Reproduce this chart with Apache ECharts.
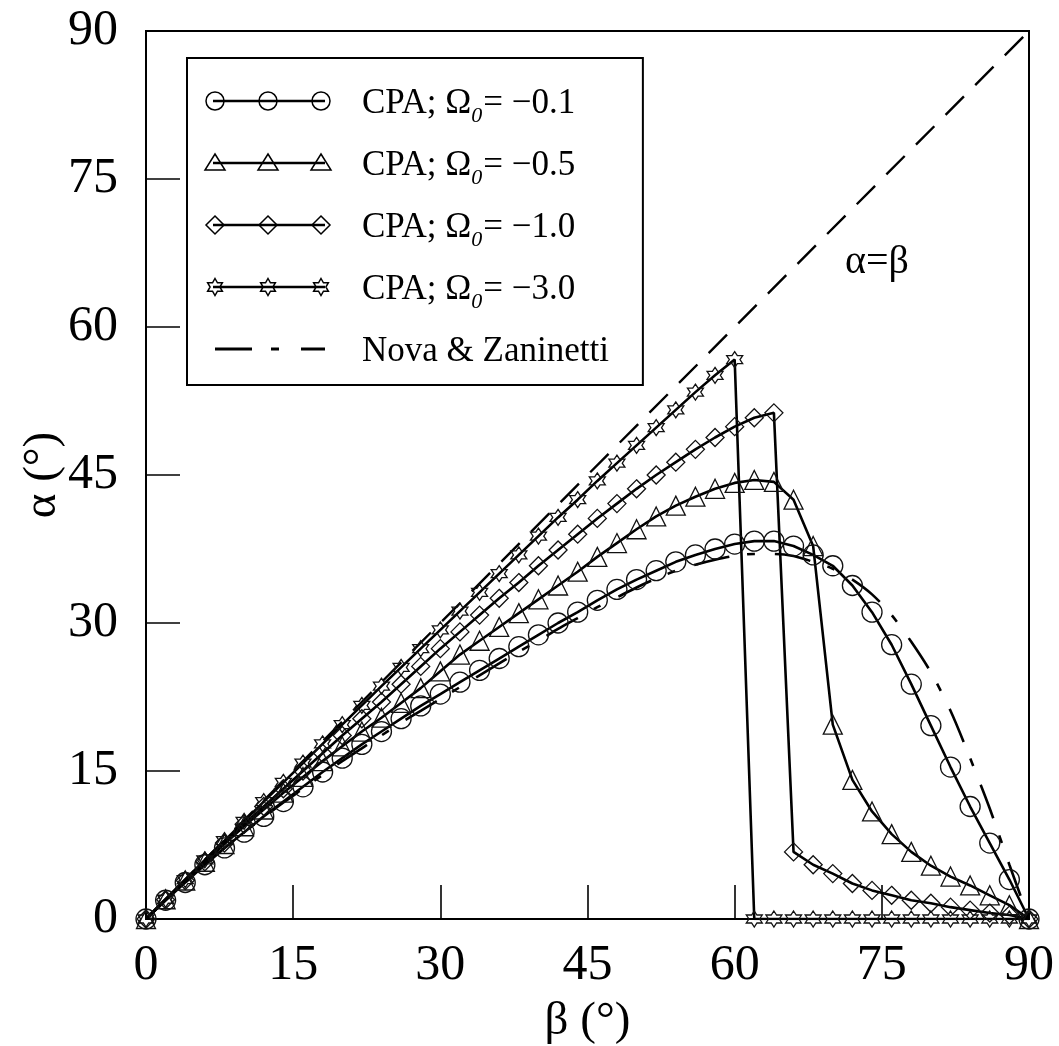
<!DOCTYPE html>
<html>
<head>
<meta charset="utf-8">
<script src="https://cdn.jsdelivr.net/npm/echarts@6/dist/echarts.min.js"></script>
<style>
html,body{margin:0;padding:0;background:#fff;}
#chart{width:1059px;height:1046px;}
</style>
</head>
<body>
<div id="chart"></div>
<script>
// ---- data ----
const beta = [0,2,4,6,8,10,12,14,16,18,20,22,24,26,28,30,32,34,36,38,40,42,44,46,48,50,52,54,56,58,60,62,64,66,68,70,72,74,76,78,80,82,84,86,88,90];
const cpa01 = [0,1.9,3.7,5.5,7.2,8.8,10.4,11.9,13.4,14.9,16.3,17.7,19.0,20.3,21.6,22.8,24.0,25.2,26.4,27.6,28.8,30.0,31.1,32.3,33.4,34.4,35.3,36.2,36.9,37.5,38.0,38.3,38.3,37.8,36.9,35.8,33.8,31.1,27.8,23.8,19.6,15.4,11.4,7.7,4.0,0];
const cpa05 = [0,2.0,3.9,5.8,7.6,9.4,11.1,12.8,14.4,16.0,17.5,19.0,20.4,21.9,23.4,25.1,26.8,28.2,29.6,31.0,32.4,33.8,35.2,36.7,38.1,39.5,40.8,41.9,42.8,43.6,44.2,44.5,44.3,42.5,37.8,19.7,14.1,10.9,8.6,6.8,5.4,4.3,3.4,2.4,1.4,0];
const cpa10 = [0,1.95,3.9,5.8,7.7,9.6,11.4,13.2,15.0,16.8,18.6,20.3,22.0,23.8,25.6,27.4,29.1,30.8,32.5,34.1,35.8,37.4,39.0,40.6,42.1,43.6,45.0,46.3,47.6,48.8,49.9,50.8,51.3,6.8,5.5,4.6,3.6,2.9,2.4,1.9,1.6,1.2,0.9,0.6,0.4,0];
const cpa30 = [0,2.0,4.0,6.0,7.95,9.9,11.9,13.85,15.8,17.75,19.7,21.65,23.6,25.5,27.4,29.3,31.2,33.1,35.0,36.9,38.8,40.7,42.5,44.4,46.2,48.0,49.8,51.6,53.4,55.1,56.7,0,0,0,0,0,0,0,0,0,0,0,0,0,0,0];
const novaZ = [0,1.9,3.7,5.5,7.2,8.8,10.3,11.8,13.2,14.6,16.0,17.3,18.6,19.9,21.1,22.3,23.5,24.7,25.9,27.1,28.2,29.4,30.5,31.6,32.6,33.6,34.5,35.3,35.9,36.4,36.8,37.0,37.0,36.8,36.2,35.5,34.4,32.9,30.8,28.1,25.0,21.1,16.3,11.2,5.5,0];
const diagX = [0,90];
const diagY = [0,90];
const ticks = [0,15,30,45,60,75,90];
const names = ['CPA; Ω0= −0.1','CPA; Ω0= −0.5','CPA; Ω0= −1.0','CPA; Ω0= −3.0','Nova & Zaninetti'];
const diagLabel = 'α=β';
const diagLabelAt = [74.5, 66.5];

const FONT = '"Liberation Serif","Times New Roman",serif';
const STAR = 'path://M10 0 L12.885 5 L18.66 5 L15.77 10 L18.66 15 L12.885 15 L10 20 L7.115 15 L1.34 15 L4.23 10 L1.34 5 L7.115 5 Z';

function pairs(xs, ys){ return xs.map((x,i)=>[x, ys[i]]); }

// legend icons as SVG images (line + three hollow markers)
const IW = 160, IH = 36;
function mk(shape, cx, cy){
  const s = 'fill="none" stroke="black" stroke-width="1.5"';
  if(shape==='circle') return `<circle cx="${cx}" cy="${cy}" r="9" ${s}/>`;
  if(shape==='triangle') return `<polygon points="${cx},${cy-9} ${cx+10},${cy+7} ${cx-10},${cy+7}" ${s}/>`;
  if(shape==='diamond') return `<polygon points="${cx},${cy-9} ${cx+9},${cy} ${cx},${cy+9} ${cx-9},${cy}" ${s}/>`;
  const p = [[0,-10],[2.885,-5],[8.66,-5],[5.77,0],[8.66,5],[2.885,5],[0,10],[-2.885,5],[-8.66,5],[-5.77,0],[-8.66,-5],[-2.885,-5]]
    .map(q=>`${cx+q[0]*0.85},${cy+q[1]*0.85}`).join(' ');
  return `<polygon points="${p}" ${s}/>`;
}
function iconFor(shape){
  let body;
  if(shape==='dashdot'){
    body = `<line x1="18" y1="18" x2="55" y2="18" stroke="black" stroke-width="3"/>`+
           `<line x1="74" y1="18" x2="82" y2="18" stroke="black" stroke-width="3"/>`+
           `<line x1="104" y1="18" x2="128" y2="18" stroke="black" stroke-width="3"/>`;
  } else {
    body = `<line x1="16" y1="18" x2="128" y2="18" stroke="black" stroke-width="2.6"/>` +
           mk(shape,18,18) + mk(shape,71,18) + mk(shape,124,18);
  }
  const svg = `<svg xmlns="http://www.w3.org/2000/svg" width="${IW}" height="${IH}" viewBox="0 0 ${IW} ${IH}">${body}</svg>`;
  return 'image://data:image/svg+xml;charset=utf-8,' + encodeURIComponent(svg);
}

function cpaSeries(name, ys, symbol, size){
  return {
    name, type:'line', data: pairs(beta, ys),
    symbol, symbolSize: size, showSymbol:true,
    lineStyle:{color:'#000', width:2.6},
    itemStyle:{color:'rgba(0,0,0,0)', borderColor:'#111', borderWidth:1.3},
    emphasis:{disabled:true}, animation:false, z:3
  };
}

const chart = echarts.init(document.getElementById('chart'), null, {renderer:'canvas'});
const axisCommon = {
  type:'value', min:0, max:90, interval:15,
  axisLine:{show:true, lineStyle:{color:'#000', width:2}},
  axisTick:{show:true, inside:true, length:34, lineStyle:{color:'#000', width:1.6}},
  splitLine:{show:false},
  axisLabel:{color:'#000', fontFamily:FONT, fontSize:50, customValues: ticks},
  nameTextStyle:{color:'#000', fontFamily:FONT, fontSize:47},
  nameLocation:'middle'
};

chart.setOption({
  backgroundColor:'#fff',
  animation:false,
  grid:{left:146, right:30, top:31, bottom:127, containLabel:false, outerBoundsMode:'none',
    show:true, borderColor:'#000', borderWidth:2, backgroundColor:'transparent'},
  xAxis: Object.assign({}, axisCommon, {name:'β (°)', nameGap:79,
    axisLabel:Object.assign({}, axisCommon.axisLabel, {margin:22})}),
  yAxis: Object.assign({}, axisCommon, {name:'α (°)', nameGap:80, nameMoveOverlap:false,
    axisLabel:Object.assign({}, axisCommon.axisLabel, {margin:28})}),
  legend:{
    orient:'vertical', left:187, top:58,
    padding:[25, 34, 16, 10],
    itemWidth:IW, itemHeight:IH, itemGap:18,
    borderColor:'#000', borderWidth:2, backgroundColor:'#fff',
    selectedMode:false,
    data:[
      {name:names[0], icon:iconFor('circle')},
      {name:names[1], icon:iconFor('triangle')},
      {name:names[2], icon:iconFor('diamond')},
      {name:names[3], icon:iconFor('star')},
      {name:names[4], icon:iconFor('dashdot')}
    ],
    formatter: n => {
      const i = n.indexOf('Ω0');
      if(i < 0) return '{t|' + n + '}';
      return '{t|' + n.slice(0, i) + 'Ω}{s|0}{t|' + n.slice(i + 2) + '}';
    },
    textStyle:{
      color:'#000', fontFamily:FONT, fontSize:35,
      rich:{
        t:{fontFamily:FONT, fontSize:35, color:'#000', lineHeight:40, verticalAlign:'bottom'},
        s:{fontFamily:FONT, fontSize:22, fontStyle:'italic', color:'#000', lineHeight:26, verticalAlign:'bottom', padding:[0,1,-6,0]}
      }
    }
  },
  series:[
    cpaSeries(names[0], cpa01, 'circle', 20),
    cpaSeries(names[1], cpa05, 'triangle', 19),
    cpaSeries(names[2], cpa10, 'diamond', 18),
    cpaSeries(names[3], cpa30, STAR, 16),
    {
      name:names[4], type:'line', data:pairs(beta, novaZ), smooth:0.3, showSymbol:false, symbol:'none',
      lineStyle:{color:'#000', width:2.6, type:[36,18,8,20]}, emphasis:{disabled:true}, z:2
    },
    {
      name:'diag', type:'line', data:pairs(diagX, diagY), showSymbol:false, symbol:'none',
      lineStyle:{color:'#000', width:2.4, type:[26,16]}, emphasis:{disabled:true}, z:2,
      markPoint:{
        symbol:'circle', symbolSize:1, silent:true,
        itemStyle:{color:'rgba(0,0,0,0)'},
        label:{show:true, position:'inside', formatter:diagLabel, color:'#000', fontFamily:FONT, fontSize:40},
        data:[{coord:diagLabelAt}]
      }
    }
  ]
});
</script>
</body>
</html>
